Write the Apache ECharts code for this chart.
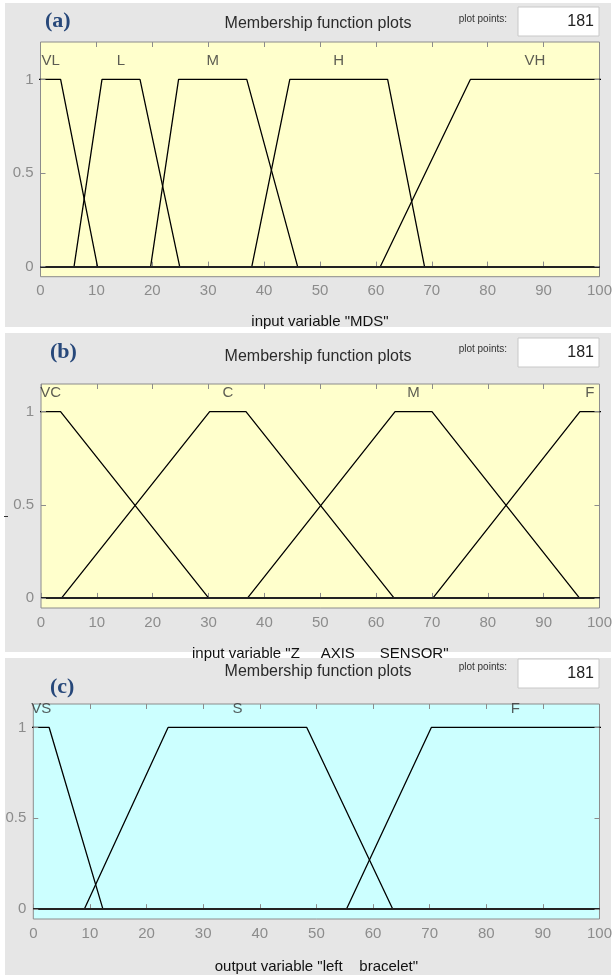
<!DOCTYPE html>
<html>
<head>
<meta charset="utf-8">
<script src="https://cdn.jsdelivr.net/npm/echarts@6/dist/echarts.min.js"></script>
<style>
html, body { margin: 0; padding: 0; background: #fff; }
#main { width: 615px; height: 975px; }
</style>
</head>
<body>
<div id="main"></div>
<script>
// shared axis ticks
var xTicks = [0, 10, 20, 30, 40, 50, 60, 70, 80, 90, 100];
var yTicks = [0, 0.5, 1];
var plotPoints = 181;

// (a) input variable "MDS"  - trapmf [a b c d]
var mdsNames = ['VL', 'L', 'M', 'H', 'VH'];
var mdsParams = [
  [-10, -1, 3.6, 10.2],
  [6.0, 11.0, 17.8, 24.9],
  [19.7, 24.7, 36.9, 46.0],
  [37.8, 44.6, 62.1, 68.7],
  [60.8, 76.9, 101, 110]
];

// (b) input variable "Z AXIS SENSOR"
var zNames = ['VC', 'C', 'M', 'F'];
var zParams = [
  [-10, -1, 3.5, 30.0],
  [3.7, 30.2, 36.7, 63.2],
  [37.0, 63.4, 70.0, 96.4],
  [70.2, 96.5, 101, 110]
];

// (c) output variable "left bracelet"
var outNames = ['VS', 'S', 'F'];
var outParams = [
  [-10, -1, 2.8, 12.3],
  [9.0, 23.8, 48.3, 63.5],
  [55.3, 70.3, 101, 110]
];

var panels = [
  { names: mdsNames, params: mdsParams, axisName: 'input variable "MDS"', letter: '(a)',
    bg: '#ffffcc', top: 3, bottom: 327, grid: { left: 40.5, top: 42, width: 559.5, height: 234.7 },
    ymax: 1.2, letterX: 45, letterY: 21, titleY: 24, boxY: 7, ppY: 19, nameGap: 38 },
  { names: zNames, params: zParams, axisName: 'input variable "Z     AXIS      SENSOR"', letter: '(b)',
    bg: '#ffffcc', top: 333, bottom: 652, grid: { left: 41, top: 384, width: 559, height: 224 },
    ymax: 1.148, letterX: 50, letterY: 352, titleY: 357, boxY: 338, ppY: 349, nameGap: 38 },
  { names: outNames, params: outParams, axisName: 'output variable "left    bracelet"', letter: '(c)',
    bg: '#ccffff', top: 658, bottom: 975, grid: { left: 33.3, top: 704, width: 569.7, height: 222.7 },
    ymax: 1.129, letterX: 50, letterY: 687, titleY: 672, boxY: 659, ppY: 667, nameGap: 40 }
];

function mfPoints(p) {
  var pts = [];
  if (p[0] > 0) pts.push([0, 0]);
  pts.push([p[0], 0], [p[1], 1], [p[2], 1], [p[3], 0]);
  if (p[3] < 100) pts.push([100, 0]);
  return pts;
}

var tickColor = '#8c8c8c';
var labelFont = { color: '#8c8c8c', fontSize: 15, fontFamily: 'Liberation Sans' };

var grids = [], xAxes = [], yAxes = [], series = [], graphics = [];

panels.forEach(function (pn, i) {
  grids.push({
    left: pn.grid.left, top: pn.grid.top, width: pn.grid.width, height: pn.grid.height,
    show: true, backgroundColor: pn.bg, borderColor: tickColor, borderWidth: 1
  });
  // bottom + top x axes
  xAxes.push({
    gridIndex: i, type: 'value', min: 0, max: 100, interval: 10, position: 'bottom',
    name: pn.axisName, nameLocation: 'middle', nameGap: pn.nameGap,
    nameTextStyle: { color: '#111', fontSize: 15, fontFamily: 'Liberation Sans' },
    axisLine: { show: false }, splitLine: { show: false },
    axisTick: { inside: true, length: 5, lineStyle: { color: tickColor } },
    axisLabel: Object.assign({ margin: 7 }, labelFont)
  });
  xAxes.push({
    gridIndex: i, type: 'value', min: 0, max: 100, interval: 10, position: 'top',
    axisLine: { show: false }, splitLine: { show: false }, axisLabel: { show: false },
    axisTick: { inside: true, length: 5, lineStyle: { color: tickColor } }
  });
  // left y axis: labels only; ticks are drawn inward below
  yAxes.push({
    gridIndex: i, type: 'value', min: -0.054, max: pn.ymax, position: 'left',
    axisLine: { show: false }, splitLine: { show: false }, axisTick: { show: false },
    axisLabel: Object.assign({ margin: 7, customValues: yTicks }, labelFont)
  });

  var xi = i * 2, yi = i;
  pn.params.forEach(function (p, k) {
    var s = {
      type: 'line', xAxisIndex: xi, yAxisIndex: yi, data: mfPoints(p),
      symbol: 'none', clip: true, silent: true, animation: false,
      lineStyle: { color: '#000', width: 1.3 }
    };
    if (k === 0) {
      s.markLine = {
        silent: true, symbol: 'none', label: { show: false }, animation: false,
        lineStyle: { color: '#222', width: 2, type: 'solid' },
        data: [{ yAxis: 0 }]
      };
    }
    series.push(s);
  });

  // inward y ticks on both sides (about 5px long)
  var tl = 5 * 100 / pn.grid.width;
  var yTickLines = [];
  yTicks.forEach(function (v) {
    yTickLines.push([{ coord: [0, v] }, { coord: [tl, v] }]);
    yTickLines.push([{ coord: [100 - tl, v] }, { coord: [100, v] }]);
  });

  // MF names above each plateau
  series.push({
    type: 'scatter', xAxisIndex: xi, yAxisIndex: yi, symbolSize: 0, silent: true, animation: false,
    itemStyle: { color: 'rgba(0,0,0,0)' },
    data: pn.params.map(function (p, k) {
      return { value: [(Math.max(p[1], 0) + Math.min(p[2], 100)) / 2, 1.1], name: pn.names[k] };
    }),
    label: {
      show: true, position: 'inside', formatter: '{b}',
      color: '#333', fontSize: 15, fontFamily: 'Liberation Sans'
    },
    markLine: {
      silent: true, symbol: 'none', label: { show: false }, animation: false,
      lineStyle: { color: tickColor, width: 1, type: 'solid' },
      data: yTickLines
    }
  });

  // panel furniture
  graphics.push({
    type: 'rect', z: -10, shape: { x: 5, y: pn.top, width: 606, height: pn.bottom - pn.top },
    style: { fill: '#e6e6e6' }
  });
  graphics.push({
    type: 'text', x: pn.letterX, y: pn.letterY,
    style: { text: pn.letter, fill: '#27487a', font: 'bold 22px "Liberation Serif"', textVerticalAlign: 'middle' }
  });
  graphics.push({
    type: 'text', x: 318, y: pn.titleY,
    style: { text: 'Membership function plots', fill: '#2b2b2b', font: '16px "Liberation Sans"',
             textAlign: 'center', textVerticalAlign: 'middle' }
  });
  graphics.push({
    type: 'text', x: 507, y: pn.ppY,
    style: { text: 'plot points:', fill: '#333', font: '10px "Liberation Sans"',
             textAlign: 'right', textVerticalAlign: 'middle' }
  });
  graphics.push({
    type: 'rect', shape: { x: 518, y: pn.boxY, width: 81, height: 29 },
    style: { fill: '#fff', stroke: '#c8c8c8', lineWidth: 1 }
  });
  graphics.push({
    type: 'text', x: 594, y: pn.boxY + 15,
    style: { text: String(plotPoints), fill: '#222', font: '16px "Liberation Sans"',
             textAlign: 'right', textVerticalAlign: 'middle' }
  });
});

// small stray dash at the left edge of panel (b), as in the screenshot
graphics.push({
  type: 'line', shape: { x1: 4, y1: 516.5, x2: 8, y2: 516.5 },
  style: { stroke: '#333', lineWidth: 1 }
});

var chart = echarts.init(document.getElementById('main'), null, { renderer: 'canvas' });
chart.setOption({
  animation: false,
  backgroundColor: '#fff',
  grid: grids,
  xAxis: xAxes,
  yAxis: yAxes,
  series: series,
  graphic: graphics
});
</script>
</body>
</html>
